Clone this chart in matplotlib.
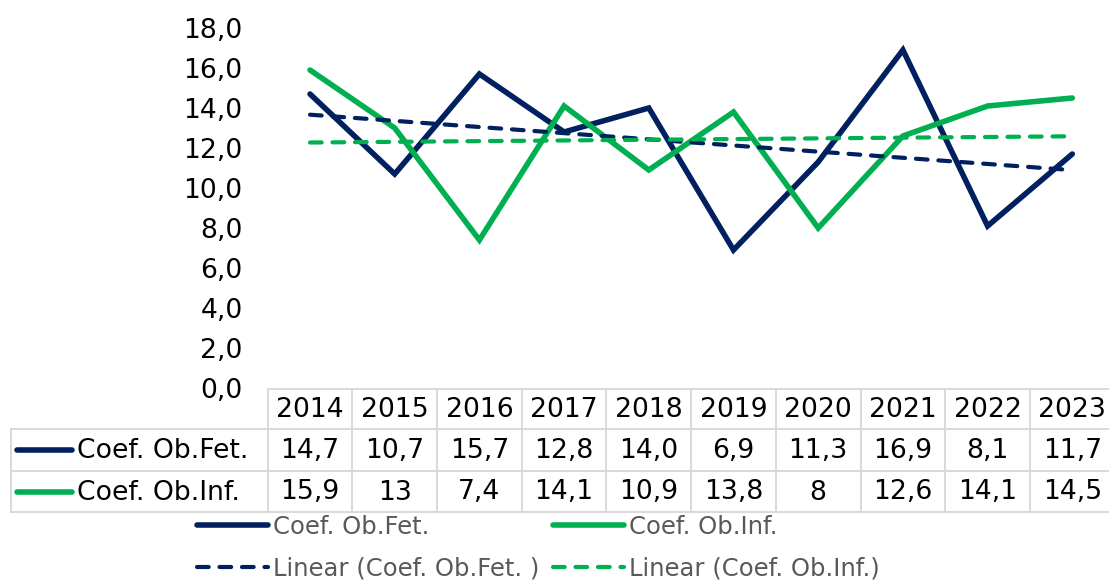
import numpy as np
import matplotlib
matplotlib.use("Agg")
import matplotlib.pyplot as plt
from matplotlib.lines import Line2D
import matplotlib.transforms as mtransforms

years = ["2014", "2015", "2016", "2017", "2018", "2019", "2020", "2021", "2022", "2023"]
fet = [14.7, 10.7, 15.7, 12.8, 14.0, 6.9, 11.3, 16.9, 8.1, 11.7]
inf = [15.9, 13.0, 7.4, 14.1, 10.9, 13.8, 8.0, 12.6, 14.1, 14.5]
fet_labels = ["14,7", "10,7", "15,7", "12,8", "14,0", "6,9", "11,3", "16,9", "8,1", "11,7"]
inf_labels = ["15,9", "13", "7,4", "14,1", "10,9", "13,8", "8", "12,6", "14,1", "14,5"]
series_names = ["Coef. Ob.Fet.", "Coef. Ob.Inf."]
trend_names = ["Linear (Coef. Ob.Fet. )", "Linear (Coef. Ob.Inf.)"]
yticks = [0, 2, 4, 6, 8, 10, 12, 14, 16, 18]

NAVY = "#002060"
GREEN = "#00B050"
GRID = "#d9d9d9"
W, H = 1109, 583
FS = 19.2
LW = 4.0
LWD = 3.0

fig = plt.figure(figsize=(W / 100, H / 100), dpi=100)

def fx(x):
    return x / W

def fy(y):
    return 1 - y / H

col = 84.7
left_px = 310 - col / 2
right_px = left_px + col * 10
top_px, bot_px = 28, 388
ax = fig.add_axes([fx(left_px), fy(bot_px), (right_px - left_px) / W, (bot_px - top_px) / H])
x = np.arange(len(years))
ax.set_xlim(-0.5, len(years) - 0.5)
ax.set_ylim(0, 18)
for s in ax.spines.values():
    s.set_visible(False)
ax.set_xticks([])
ax.set_yticks(yticks)
ax.set_yticklabels([f"{v:.1f}".replace(".", ",") for v in yticks], fontsize=FS)
ax.tick_params(axis="y", length=0, pad=18)

ax.plot(x, fet, color=NAVY, lw=LW, solid_joinstyle="miter", solid_capstyle="round")
ax.plot(x, inf, color=GREEN, lw=LW, solid_joinstyle="miter", solid_capstyle="round")
for vals, c in [(fet, NAVY), (inf, GREEN)]:
    k, b = np.polyfit(x, vals, 1)
    ax.plot(x, k * x + b, color=c, lw=LWD, ls=(0, (2.8, 2.6)), dash_capstyle="round")

# data table
blend = mtransforms.blended_transform_factory(ax.transData, fig.transFigure)
row_y = [389, 429, 471, 512]
tab_left = 11
lw_grid = 1.4

def hline(y, x0px):
    fig.add_artist(Line2D([fx(x0px), fx(right_px)], [fy(y), fy(y)], color=GRID, lw=lw_grid,
                          transform=fig.transFigure))

hline(row_y[0], left_px)
for y in row_y[1:]:
    hline(y, tab_left)
fig.add_artist(Line2D([fx(tab_left)] * 2, [fy(row_y[1]), fy(row_y[3])], color=GRID, lw=lw_grid,
                      transform=fig.transFigure))
for i in range(len(years) + 1):
    fig.add_artist(Line2D([i - 0.5, i - 0.5], [fy(row_y[0]), fy(row_y[3])], color=GRID, lw=lw_grid,
                          transform=blend))

centers = [(row_y[i] + row_y[i + 1]) / 2 + 1 for i in range(3)]
for i, yr in enumerate(years):
    fig.text(i, fy(centers[0]), yr, ha="center", va="center", fontsize=FS, transform=blend)
    fig.text(i, fy(centers[1]), fet_labels[i], ha="center", va="center", fontsize=FS, transform=blend)
    fig.text(i, fy(centers[2]), inf_labels[i], ha="center", va="center", fontsize=FS, transform=blend)

for name, c, cy in [(series_names[0], NAVY, centers[1]), (series_names[1], GREEN, centers[2])]:
    fig.add_artist(Line2D([fx(17), fx(72)], [fy(cy - 1), fy(cy - 1)], color=c, lw=LW,
                          solid_capstyle="round", transform=fig.transFigure))
    fig.text(fx(77), fy(cy), name, ha="left", va="center", fontsize=FS)

# legend
handles = [
    Line2D([], [], color=NAVY, lw=LW, solid_capstyle="round"),
    Line2D([], [], color=NAVY, lw=LWD, ls=(0, (2.8, 2.6)), dash_capstyle="round"),
    Line2D([], [], color=GREEN, lw=LW, solid_capstyle="round"),
    Line2D([], [], color=GREEN, lw=LWD, ls=(0, (2.8, 2.6)), dash_capstyle="round"),
]
labels = [series_names[0], trend_names[0], series_names[1], trend_names[1]]
LFS = 17.5
leg = fig.legend(handles, labels, ncol=2, loc="upper left",
                 bbox_to_anchor=(fx(197), fy(515)), frameon=False, fontsize=LFS,
                 handlelength=2.92, handletextpad=0.22, columnspacing=0.55,
                 labelspacing=0.72, borderpad=0, borderaxespad=0)
for t in leg.get_texts():
    t.set_color("#595959")

fig.savefig("out.png", dpi=100)
